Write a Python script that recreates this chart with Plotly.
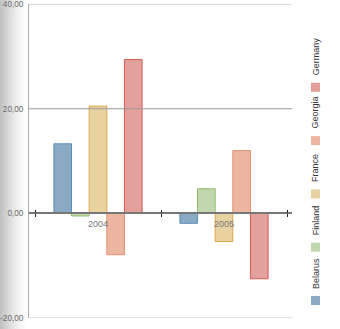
import plotly.graph_objects as go

categories = ["2004", "2005"]
series_names = ["Belarus", "Finland", "France", "Georgia", "Germany"]
values = {
    "Belarus": [13.3, -1.9],
    "Finland": [-0.5, 4.7],
    "France": [20.5, -5.4],
    "Georgia": [-7.9, 12.0],
    "Germany": [29.4, -12.5],
}
fills = ["#8aaac4", "#c2d6b0", "#e8d2a0", "#ecb6a0", "#e4a09a"]
borders = ["#5b8db8", "#8fbd6c", "#dcaa48", "#e09070", "#d05c58"]
ytick_vals = [-20, 0, 20, 40]
ytick_text = ["-20,00", "0,00", "20,00", "40,00"]

W, H = 340, 329
ML, MR, MT, MB = 29, 48, 4, 11
PW = W - ML - MR
PH = H - MT - MB

fig = go.Figure()
for name, fc, bc in zip(series_names, fills, borders):
    fig.add_trace(go.Bar(
        x=categories, y=values[name], name=name,
        marker=dict(color=fc, line=dict(color=bc, width=1)),
        showlegend=False,
    ))

font = "Liberation Sans, Arial, sans-serif"
shapes = []
annotations = []

# left gradient
for i in range(27):
    t = i / 27
    g = int(round(255 - 62 * (1 - t) ** 1.4))
    shapes.append(dict(type="rect", xref="paper", yref="paper",
                       x0=(i - ML) / PW, x1=(i + 1 - ML) / PW,
                       y0=-MB / PH, y1=1 + MT / PH,
                       fillcolor=f"rgb({g},{g},{g})", line=dict(width=0), layer="below"))

# grid lines
for v in ytick_vals:
    if v == 0:
        continue
    col = "#9a9a9a" if v == 20 else "#cccccc"
    shapes.append(dict(type="line", xref="paper", yref="y", x0=0, x1=1, y0=v, y1=v,
                       line=dict(color=col, width=1.2), layer="above" if v == 20 else "below"))

# legend (manual, rotated text)
sq = 9
for k, (name, fc) in enumerate(zip(series_names, fills)):
    cy = 300.5 - k * 53.3
    x0 = 311
    shapes.append(dict(type="rect", xref="paper", yref="paper",
                       x0=(x0 - ML) / PW, x1=(x0 + sq - ML) / PW,
                       y0=(H - MB - (cy + sq / 2)) / PH, y1=(H - MB - (cy - sq / 2)) / PH,
                       fillcolor=fc, line=dict(width=0)))
    annotations.append(dict(text=name, xref="paper", yref="paper",
                            x=(x0 + sq / 2 - ML) / PW, y=(H - MB - (cy - sq / 2 - 5)) / PH,
                            xanchor="center", yanchor="bottom", textangle=-90, showarrow=False,
                            font=dict(family=font, size=9, color="#333333")))

fig.update_layout(
    width=W, height=H,
    margin=dict(l=ML, r=MR, t=MT, b=MB, pad=0, autoexpand=False),
    paper_bgcolor="white", plot_bgcolor="white",
    barmode="group", bargap=0.3, bargroupgap=0,
    shapes=shapes, annotations=annotations,
    xaxis=dict(type="category", range=[-0.5476, 1.5397], anchor="free", position=1/3,
               showline=True, linecolor="#777777", linewidth=1.5, automargin=False,
               ticks="outside", tickson="boundaries", ticklen=3, tickcolor="#222222", tickwidth=1,
               showgrid=False, layer="above traces", ticklabelstandoff=2,
               tickfont=dict(family=font, size=9, color="#777777")),
    xaxis2=dict(type="category", range=[-0.5476, 1.5397], anchor="free", position=1/3,
                overlaying="x", showline=False, automargin=False,
                ticks="inside", tickson="boundaries", ticklen=3, tickcolor="#222222", tickwidth=1,
                showticklabels=False, showgrid=False, layer="above traces"),
    yaxis=dict(range=[-20, 40.02], tickvals=ytick_vals, ticktext=ytick_text, automargin=False,
               showgrid=False, zeroline=False, showline=True, linecolor="#aaaaaa", linewidth=1,
               ticks="", ticklabelstandoff=3, ticklabeloverflow="allow",
               tickfont=dict(family=font, size=8.2, color="#6a6a6a")),
)
# invisible helper trace so the inside ticks of xaxis2 render
fig.add_trace(go.Scatter(x=categories, y=[0, 0], xaxis="x2", mode="markers",
                         marker=dict(opacity=0), showlegend=False, hoverinfo="skip"))
fig.write_html("out.html")
